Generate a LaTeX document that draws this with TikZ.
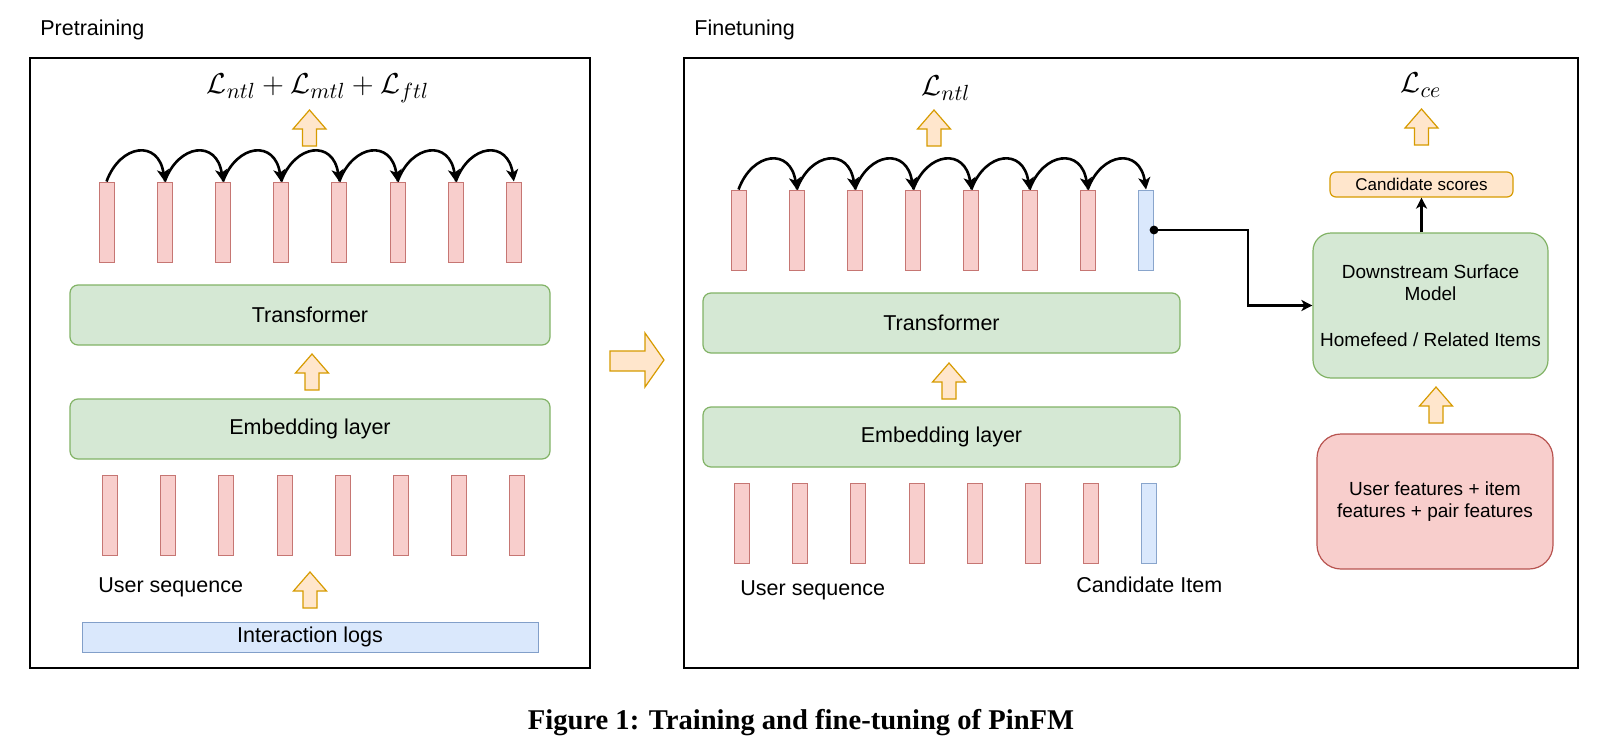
\documentclass[tikz,border=0pt]{standalone}
\usepackage{fontspec}
\setmainfont{Liberation Serif}
\setsansfont{Liberation Sans}
\usetikzlibrary{arrows.meta}
\definecolor{gfill}{HTML}{D5E8D4}
\definecolor{gline}{HTML}{82B366}
\definecolor{rfill}{HTML}{F8CECC}
\definecolor{rline}{HTML}{B85450}
\definecolor{bfill}{HTML}{DAE8FC}
\definecolor{bline}{HTML}{6C8EBF}
\definecolor{ofill}{HTML}{FFE6CC}
\definecolor{oline}{HTML}{D79B00}
\tikzset{
  lbl/.style={font=\sffamily\fontsize{10.75pt}{13pt}\selectfont, inner sep=0pt},
  smalllbl/.style={font=\sffamily\fontsize{9.5pt}{11.4pt}\selectfont, align=center},
  gbox/.style={draw=gline, fill=gfill, line width=0.6pt, rounded corners=4pt, inner sep=0pt,
    font=\sffamily\fontsize{10.75pt}{13pt}\selectfont},
  rbar/.style={draw=rline!80, fill=rfill, line width=0.5pt, minimum width=7.5pt, minimum height=40pt, inner sep=0pt},
  bbar/.style={draw=bline!80, fill=bfill, line width=0.5pt, minimum width=7.5pt, minimum height=40pt, inner sep=0pt},
  hop/.style={line width=1.3pt, -{Stealth[length=6pt,width=6pt,inset=1.6pt]}},
  conn/.style={line width=1.1pt, -{Stealth[length=5.5pt,width=5.5pt,inset=1.5pt]}},
  blk/.style={draw=oline, fill=ofill, line width=0.6pt, line join=miter},
  panel/.style={draw=black, line width=1.1pt},
  lossm/.style={font=\fontsize{15pt}{18pt}\selectfont, inner sep=0pt},
  uparr/.pic={\path[blk] (0,-18) -- (16.5,1) -- (7,1) -- (7,18) -- (-7,18) -- (-7,1) -- (-16.5,1) -- cycle;}
}
\begin{document}
\begin{tikzpicture}[x=0.5pt,y=-0.5pt]
\path[use as bounding box, fill=white] (0,0) rectangle (1622,744);

% ---------- Pretraining panel ----------
\node[lbl, anchor=base west] (pretitle) at (40,35) {Pretraining};
\draw[panel] (30,58) rectangle (590,668);

\node[lossm] (lossL) at (318,88) {$\mathcal{L}_{ntl}+\mathcal{L}_{mtl}+\mathcal{L}_{ftl}$};
\pic at (309.5,128) {uparr};

\foreach \i in {1,...,8} \node[rbar] (p\i) at ({106.5+58.2*(\i-1)},222) {};
\foreach \i in {1,...,7} {
  \pgfmathtruncatemacro\j{\i+1}
  \draw[hop] (p\i.north) .. controls +(14,-38) and +(-6,-42) .. (p\j.north);
}

\node[gbox, minimum width=240pt, minimum height=30pt] (trL) at (310,315) {Transformer};
\pic at (312,372) {uparr};
\node[gbox, minimum width=240pt, minimum height=30pt] (emL) at (310,429) {Embedding layer};

\foreach \i in {1,...,8} \node[rbar] (e\i) at ({110+58.2*(\i-1)},515.5) {};

\node[lbl, anchor=west] (useqL) at (98,587) {User sequence};
\pic at (310,590) {uparr};
\node[draw=bline!85, fill=bfill, line width=0.5pt, minimum width=228pt, minimum height=15pt, inner sep=0pt,
  font=\sffamily\fontsize{10.75pt}{13pt}\selectfont] (logs) at (310,637) {Interaction logs};

% ---------- big arrow ----------
\path[blk] (610,351) -- (645,351) -- (645,333) -- (664,360) -- (645,387) -- (645,371) -- (610,371) -- cycle;

% ---------- Finetuning panel ----------
\node[lbl, anchor=base west] (finetitle) at (694,35) {Finetuning};
\draw[panel] (684,58) rectangle (1578,668);

\node[lossm] (lossN) at (946,88) {$\mathcal{L}_{ntl}$};
\pic at (934,128) {uparr};

\foreach \i in {1,...,7} \node[rbar] (q\i) at ({738.5+58.2*(\i-1)},230) {};
\node[bbar] (q8) at (1146,230) {};
\foreach \i in {1,...,7} {
  \pgfmathtruncatemacro\j{\i+1}
  \draw[hop] (q\i.north) .. controls +(14,-38) and +(-6,-42) .. (q\j.north);
}

\node[gbox, minimum width=238.5pt, minimum height=30pt] (trR) at (941.5,323) {Transformer};
\pic at (949,381) {uparr};
\node[gbox, minimum width=238.5pt, minimum height=30pt] (emR) at (941.5,437) {Embedding layer};

\foreach \i in {1,...,7} \node[rbar] (f\i) at ({742+58.2*(\i-1)},523.5) {};
\node[bbar] (f8) at (1149,523.5) {};

\node[lbl, anchor=west] (useqR) at (740,590) {User sequence};
\node[lbl, anchor=west] (cand) at (1076,585) {Candidate Item};

% downstream side
\node[draw=gline, fill=gfill, line width=0.6pt, rounded corners=9pt, minimum width=117.5pt, minimum height=72.5pt,
  inner sep=0pt, smalllbl] (ds) at (1430.5,305.5) {Downstream Surface\\Model\\[11.4pt]Homefeed / Related Items};
\node[draw=oline, fill=ofill, line width=0.6pt, rounded corners=3pt, minimum width=91.5pt, minimum height=12.5pt,
  inner sep=0pt, font=\sffamily\fontsize{8.5pt}{10pt}\selectfont] (cs) at (1421.5,184.5) {Candidate scores};
\node[lossm] (lossC) at (1421,85) {$\mathcal{L}_{ce}$};
\pic at (1421.5,127) {uparr};
\pic at (1436,405) {uparr};
\node[draw=rline, fill=rfill, line width=0.6pt, rounded corners=12pt, minimum width=118pt, minimum height=67.5pt,
  inner sep=0pt, smalllbl] (feat) at (1435,501.5) {User features + item\\features + pair features};

\draw[conn] (cs.south |- ds.north) -- (cs.south);
\draw[conn] (q8.east) -- ++(94,0) |- (ds.west);
\fill (q8.east) circle (2.2pt);

% ---------- caption ----------
\node[font=\bfseries\fontsize{14.3pt}{17pt}\selectfont, anchor=base, inner sep=0pt] (cap) at (801,729)
  {Figure 1: Training and fine-tuning of PinFM};
\end{tikzpicture}
\end{document}
